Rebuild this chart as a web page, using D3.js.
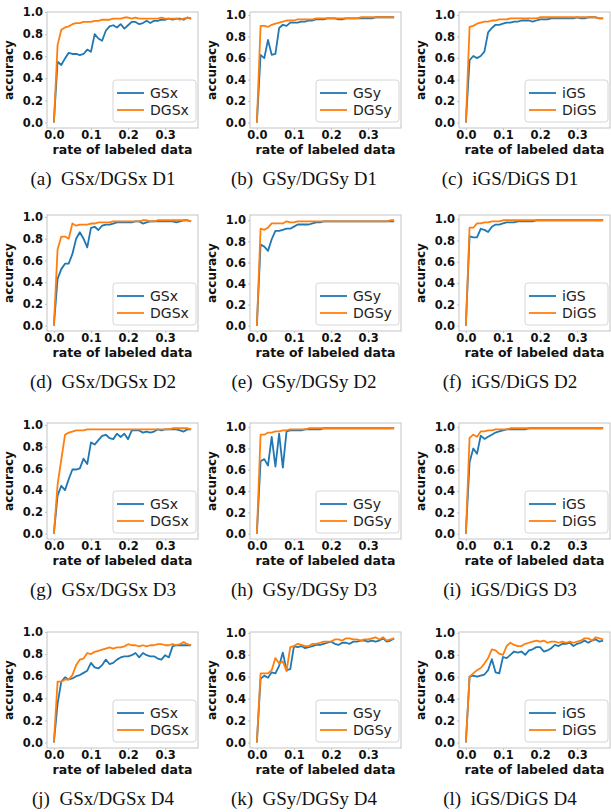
<!DOCTYPE html>
<html>
<head>
<meta charset="utf-8">
<script src="https://cdn.jsdelivr.net/npm/d3@7"></script>
<style>
  body { margin: 0; background: #fff; }
  svg { display: block; }
</style>
</head>
<body>
<svg></svg>
<script>
const [WIDTH, HEIGHT] = [611, 812]

// rate of labeled data (shared x values)
const rates = [0, 0.01, 0.02, 0.03, 0.04, 0.05, 0.06, 0.07, 0.08, 0.09,
  0.10, 0.11, 0.12, 0.13, 0.14, 0.15, 0.16, 0.17, 0.18, 0.19,
  0.20, 0.21, 0.22, 0.23, 0.24, 0.25, 0.26, 0.27, 0.28, 0.29,
  0.30, 0.31, 0.32, 0.33, 0.34, 0.35, 0.36, 0.37]

const xTicks = [0, 0.1, 0.2, 0.3]
const yTicks = [0, 0.2, 0.4, 0.6, 0.8, 1.0]

// D1
const gsxD1  = [0, 0.55, 0.52, 0.58, 0.63, 0.62, 0.62, 0.61, 0.62, 0.66, 0.64, 0.80, 0.76, 0.74, 0.83, 0.87, 0.88, 0.86, 0.89, 0.85, 0.88, 0.91, 0.91, 0.89, 0.90, 0.92, 0.90, 0.92, 0.92, 0.93, 0.93, 0.94, 0.93, 0.94, 0.94, 0.93, 0.95, 0.94]
const dgsxD1 = [0, 0.70, 0.84, 0.86, 0.87, 0.89, 0.90, 0.90, 0.91, 0.91, 0.91, 0.92, 0.92, 0.93, 0.93, 0.93, 0.94, 0.94, 0.94, 0.95, 0.95, 0.94, 0.95, 0.94, 0.94, 0.94, 0.94, 0.94, 0.94, 0.95, 0.94, 0.94, 0.94, 0.94, 0.93, 0.94, 0.95, 0.94]
const gsyD1  = [0, 0.63, 0.60, 0.77, 0.63, 0.64, 0.88, 0.91, 0.90, 0.93, 0.93, 0.93, 0.94, 0.94, 0.95, 0.95, 0.96, 0.96, 0.96, 0.97, 0.97, 0.97, 0.96, 0.96, 0.97, 0.97, 0.97, 0.97, 0.97, 0.97, 0.97, 0.97, 0.98, 0.98, 0.98, 0.98, 0.98, 0.98]
const dgsyD1 = [0, 0.90, 0.90, 0.89, 0.91, 0.92, 0.93, 0.94, 0.95, 0.95, 0.95, 0.96, 0.96, 0.96, 0.96, 0.96, 0.97, 0.97, 0.97, 0.97, 0.97, 0.97, 0.97, 0.97, 0.97, 0.97, 0.97, 0.97, 0.98, 0.98, 0.98, 0.98, 0.98, 0.98, 0.98, 0.98, 0.98, 0.98]
const igsD1  = [0, 0.58, 0.62, 0.60, 0.62, 0.66, 0.84, 0.88, 0.91, 0.91, 0.92, 0.93, 0.93, 0.94, 0.94, 0.95, 0.95, 0.95, 0.94, 0.95, 0.96, 0.96, 0.96, 0.97, 0.97, 0.97, 0.97, 0.97, 0.97, 0.97, 0.98, 0.97, 0.97, 0.98, 0.98, 0.98, 0.97, 0.97]
const digsD1 = [0, 0.89, 0.90, 0.92, 0.93, 0.94, 0.94, 0.95, 0.95, 0.96, 0.96, 0.96, 0.97, 0.97, 0.97, 0.97, 0.97, 0.97, 0.97, 0.97, 0.98, 0.98, 0.98, 0.98, 0.98, 0.98, 0.98, 0.98, 0.98, 0.98, 0.98, 0.98, 0.98, 0.98, 0.98, 0.98, 0.97, 0.97]

// D2
const gsxD2  = [0, 0.43, 0.52, 0.57, 0.57, 0.66, 0.80, 0.86, 0.80, 0.72, 0.90, 0.91, 0.88, 0.92, 0.93, 0.93, 0.94, 0.95, 0.95, 0.95, 0.95, 0.95, 0.96, 0.96, 0.94, 0.95, 0.96, 0.96, 0.96, 0.96, 0.96, 0.96, 0.96, 0.95, 0.96, 0.97, 0.97, 0.96]
const dgsxD2 = [0, 0.70, 0.82, 0.82, 0.80, 0.94, 0.92, 0.93, 0.93, 0.93, 0.94, 0.94, 0.95, 0.95, 0.95, 0.95, 0.96, 0.96, 0.96, 0.96, 0.96, 0.96, 0.96, 0.96, 0.97, 0.97, 0.96, 0.96, 0.97, 0.97, 0.97, 0.97, 0.97, 0.97, 0.97, 0.97, 0.97, 0.96]
const gsyD2  = [0, 0.77, 0.75, 0.71, 0.82, 0.90, 0.90, 0.91, 0.92, 0.92, 0.94, 0.96, 0.96, 0.96, 0.96, 0.97, 0.98, 0.98, 0.99, 0.99, 0.99, 0.99, 0.99, 0.99, 0.99, 0.99, 0.99, 0.99, 0.99, 0.99, 0.99, 0.99, 0.99, 0.99, 0.99, 0.99, 0.99, 0.99]
const dgsyD2 = [0, 0.92, 0.91, 0.93, 0.97, 0.97, 0.97, 0.97, 0.99, 0.98, 0.98, 0.99, 0.99, 0.99, 0.99, 0.99, 0.99, 0.99, 0.99, 0.99, 0.99, 0.99, 0.99, 0.99, 0.99, 0.99, 0.99, 0.99, 0.99, 0.99, 0.99, 0.99, 0.99, 0.99, 0.99, 0.99, 1.00, 1.00]
const igsD2  = [0, 0.84, 0.83, 0.83, 0.91, 0.90, 0.88, 0.93, 0.95, 0.95, 0.96, 0.97, 0.97, 0.97, 0.98, 0.98, 0.98, 0.98, 0.98, 0.99, 0.99, 0.99, 0.99, 0.99, 0.99, 0.99, 0.99, 0.99, 0.99, 0.99, 0.99, 0.99, 0.99, 0.99, 0.99, 0.99, 0.99, 0.99]
const digsD2 = [0, 0.92, 0.92, 0.96, 0.96, 0.97, 0.97, 0.98, 0.98, 0.98, 0.99, 0.99, 0.99, 0.99, 0.99, 0.99, 0.99, 0.99, 0.99, 0.99, 0.99, 0.99, 0.99, 0.99, 0.99, 0.99, 0.99, 0.99, 0.99, 0.99, 0.99, 0.99, 0.99, 0.99, 0.99, 0.99, 0.99, 0.99]

// D3
const gsxD3  = [0, 0.35, 0.44, 0.40, 0.50, 0.59, 0.59, 0.60, 0.69, 0.64, 0.84, 0.82, 0.86, 0.90, 0.91, 0.88, 0.87, 0.92, 0.89, 0.92, 0.87, 0.95, 0.95, 0.95, 0.93, 0.94, 0.93, 0.94, 0.96, 0.95, 0.96, 0.96, 0.96, 0.96, 0.95, 0.94, 0.96, 0.96]
const dgsxD3 = [0, 0.45, 0.68, 0.91, 0.93, 0.94, 0.95, 0.95, 0.95, 0.96, 0.96, 0.96, 0.96, 0.96, 0.96, 0.96, 0.96, 0.96, 0.96, 0.96, 0.96, 0.96, 0.96, 0.96, 0.96, 0.96, 0.96, 0.96, 0.96, 0.96, 0.96, 0.96, 0.97, 0.97, 0.97, 0.97, 0.97, 0.96]
const gsyD3  = [0, 0.68, 0.70, 0.64, 0.91, 0.63, 0.94, 0.62, 0.96, 0.97, 0.97, 0.97, 0.97, 0.98, 0.98, 0.98, 0.98, 0.98, 0.99, 0.99, 0.99, 0.99, 0.99, 0.99, 0.99, 0.99, 0.99, 0.99, 0.99, 0.99, 0.99, 0.99, 0.99, 0.99, 0.99, 0.99, 0.99, 0.99]
const dgsyD3 = [0, 0.93, 0.93, 0.95, 0.95, 0.96, 0.96, 0.97, 0.97, 0.98, 0.98, 0.98, 0.98, 0.98, 0.99, 0.99, 0.99, 0.99, 0.99, 0.99, 0.99, 0.99, 0.99, 0.99, 0.99, 0.99, 0.99, 0.99, 0.99, 0.99, 0.99, 0.99, 0.99, 0.99, 0.99, 0.99, 0.99, 0.99]
const igsD3  = [0, 0.67, 0.80, 0.75, 0.92, 0.89, 0.91, 0.93, 0.95, 0.96, 0.97, 0.98, 0.98, 0.98, 0.98, 0.98, 0.98, 0.99, 0.99, 0.99, 0.99, 0.99, 0.99, 0.99, 0.99, 0.99, 0.99, 0.99, 0.99, 0.99, 0.99, 0.99, 0.99, 0.99, 0.99, 0.99, 0.99, 0.99]
const digsD3 = [0, 0.90, 0.93, 0.91, 0.96, 0.96, 0.97, 0.97, 0.98, 0.98, 0.98, 0.98, 0.99, 0.99, 0.99, 0.99, 0.99, 0.99, 0.99, 0.99, 0.99, 0.99, 0.99, 0.99, 0.99, 0.99, 0.99, 0.99, 0.99, 0.99, 0.99, 0.99, 0.99, 0.99, 0.99, 0.99, 0.99, 0.99]

// D4
const gsxD4  = [0, 0.35, 0.55, 0.59, 0.57, 0.58, 0.60, 0.61, 0.63, 0.65, 0.72, 0.68, 0.67, 0.70, 0.75, 0.71, 0.72, 0.75, 0.77, 0.78, 0.78, 0.79, 0.81, 0.77, 0.81, 0.79, 0.78, 0.78, 0.76, 0.75, 0.79, 0.77, 0.87, 0.88, 0.88, 0.88, 0.88, 0.88]
const dgsxD4 = [0, 0.55, 0.55, 0.57, 0.57, 0.61, 0.70, 0.75, 0.76, 0.81, 0.80, 0.82, 0.83, 0.84, 0.85, 0.86, 0.85, 0.86, 0.86, 0.87, 0.89, 0.88, 0.88, 0.87, 0.88, 0.87, 0.88, 0.88, 0.89, 0.89, 0.88, 0.88, 0.89, 0.88, 0.89, 0.91, 0.89, 0.88]
const gsyD4  = [0, 0.58, 0.61, 0.59, 0.64, 0.63, 0.70, 0.82, 0.66, 0.67, 0.88, 0.87, 0.88, 0.86, 0.87, 0.88, 0.89, 0.89, 0.90, 0.91, 0.92, 0.90, 0.89, 0.91, 0.91, 0.90, 0.92, 0.92, 0.93, 0.93, 0.92, 0.93, 0.92, 0.93, 0.95, 0.92, 0.93, 0.95]
const dgsyD4 = [0, 0.63, 0.63, 0.63, 0.66, 0.77, 0.72, 0.74, 0.65, 0.87, 0.88, 0.90, 0.89, 0.88, 0.88, 0.90, 0.90, 0.91, 0.92, 0.92, 0.92, 0.94, 0.94, 0.93, 0.95, 0.95, 0.94, 0.94, 0.93, 0.94, 0.94, 0.95, 0.96, 0.94, 0.96, 0.93, 0.94, 0.95]
const igsD4  = [0, 0.60, 0.61, 0.60, 0.61, 0.62, 0.66, 0.76, 0.64, 0.63, 0.78, 0.77, 0.80, 0.83, 0.82, 0.83, 0.80, 0.84, 0.85, 0.87, 0.87, 0.83, 0.84, 0.86, 0.89, 0.88, 0.90, 0.90, 0.91, 0.88, 0.90, 0.91, 0.93, 0.91, 0.93, 0.94, 0.92, 0.93]
const digsD4 = [0, 0.60, 0.63, 0.66, 0.68, 0.72, 0.77, 0.85, 0.84, 0.81, 0.80, 0.88, 0.91, 0.89, 0.88, 0.88, 0.90, 0.91, 0.92, 0.93, 0.92, 0.93, 0.91, 0.92, 0.92, 0.91, 0.92, 0.91, 0.92, 0.91, 0.92, 0.93, 0.95, 0.95, 0.93, 0.96, 0.95, 0.94]

const legendNames = [["GSx", "DGSx"], ["GSy", "DGSy"], ["iGS", "DiGS"]]
const captions = ["(a)  GSx/DGSx D1", "(b)  GSy/DGSy D1", "(c)  iGS/DiGS D1",
  "(d)  GSx/DGSx D2", "(e)  GSy/DGSy D2", "(f)  iGS/DiGS D2",
  "(g)  GSx/DGSx D3", "(h)  GSy/DGSy D3", "(i)  iGS/DiGS D3",
  "(j)  GSx/DGSx D4", "(k)  GSy/DGSy D4", "(l)  iGS/DiGS D4"]

const panelSeries = [
  [gsxD1, dgsxD1], [gsyD1, dgsyD1], [igsD1, digsD1],
  [gsxD2, dgsxD2], [gsyD2, dgsyD2], [igsD2, digsD2],
  [gsxD3, dgsxD3], [gsyD3, dgsyD3], [igsD3, digsD3],
  [gsxD4, dgsxD4], [gsyD4, dgsyD4], [igsD4, digsD4]
]

// layout
const colLeft = [47, 250, 459]
const rowTop = [12, 215, 423, 632]
const captionX = [103, 304, 510]
const plotW = 151, plotH = 116
const colors = ["#1f77b4", "#ff7f0e"]
const spineColor = "#c4c4c4"
const boldFont = "'DejaVu Sans', sans-serif"

const svg = d3.select("svg")
    .attr("width", WIDTH)
    .attr("height", HEIGHT)
    .attr("viewBox", "0 0 " + WIDTH + " " + HEIGHT)

svg.append("rect").attr("width", WIDTH).attr("height", HEIGHT).attr("fill", "#fff")

function drawPanel(i) {
    const col = i % 3, row = Math.floor(i / 3)
    const left = colLeft[col], top = rowTop[row]
    const series = panelSeries[i]
    const names = legendNames[col]

    const maxVal = d3.max(series, s => d3.max(s))
    const x = d3.scaleLinear().domain([-0.0185, 0.3885]).range([0, plotW])
    const y = d3.scaleLinear().domain([-0.05, Math.max(1.0, maxVal * 1.05)]).range([plotH, 0])

    const g = svg.append("g").attr("transform", `translate(${left},${top})`)

    // lines
    const line = d3.line().x((d, k) => x(rates[k])).y(d => y(d))
    series.forEach((s, k) => {
        g.append("path")
            .datum(s)
            .attr("d", line)
            .attr("fill", "none")
            .attr("stroke", colors[k])
            .attr("stroke-width", 1.8)
            .attr("stroke-linejoin", "round")
    })

    // axes
    const xAxis = g.append("g").attr("transform", `translate(0,${plotH})`)
        .call(d3.axisBottom(x).tickValues(xTicks).tickFormat(d3.format(".1f")).tickSize(2).tickPadding(1))
    const yAxis = g.append("g")
        .call(d3.axisLeft(y).tickValues(yTicks).tickFormat(d3.format(".1f")).tickSize(2).tickPadding(2))
    for (const ax of [xAxis, yAxis]) {
        ax.select(".domain").remove()
        ax.selectAll("line").attr("stroke", spineColor)
        ax.selectAll("text")
            .attr("fill", "#111")
            .style("font-family", boldFont)
            .style("font-weight", "bold")
            .style("font-size", "11.5px")
    }

    // spines
    g.append("rect")
        .attr("width", plotW).attr("height", plotH)
        .attr("fill", "none")
        .attr("stroke", spineColor)
        .attr("stroke-width", 1)

    // axis labels
    g.append("text")
        .attr("x", plotW / 2).attr("y", plotH + 26)
        .attr("text-anchor", "middle")
        .style("font-family", boldFont).style("font-weight", "bold").style("font-size", "12.5px")
        .attr("fill", "#111")
        .text("rate of labeled data")
    g.append("text")
        .attr("transform", `translate(-34,${plotH / 2}) rotate(-90)`)
        .attr("text-anchor", "middle")
        .style("font-family", boldFont).style("font-weight", "bold").style("font-size", "12px")
        .attr("fill", "#111")
        .text("accuracy")

    // legend
    const lw = names[1].length > 3 ? 83 : 76
    const lh = 42
    const lg = g.append("g").attr("transform", `translate(${plotW - lw - 2},${plotH - lh - 6})`)
    lg.append("rect")
        .attr("width", lw).attr("height", lh).attr("rx", 3)
        .attr("fill", "#fff").attr("fill-opacity", 0.8)
        .attr("stroke", "#d6d6d6")
    names.forEach((n, k) => {
        const cy = 13 + k * 17
        lg.append("line")
            .attr("x1", 4).attr("x2", 31).attr("y1", cy).attr("y2", cy)
            .attr("stroke", colors[k]).attr("stroke-width", 1.8)
        lg.append("text")
            .attr("x", 37).attr("y", cy + 5)
            .style("font-family", boldFont).style("font-size", "14px")
            .attr("fill", "#222")
            .text(n)
    })

    // caption
    svg.append("text")
        .attr("x", captionX[col]).attr("y", top + 173)
        .attr("text-anchor", "middle")
        .style("font-family", "'Liberation Serif', 'Times New Roman', serif")
        .style("font-size", "19px")
        .style("white-space", "pre")
        .attr("fill", "#111")
        .text(captions[i])
}

for (let i = 0; i < 12; i++) drawPanel(i)
</script>
</body>
</html>
